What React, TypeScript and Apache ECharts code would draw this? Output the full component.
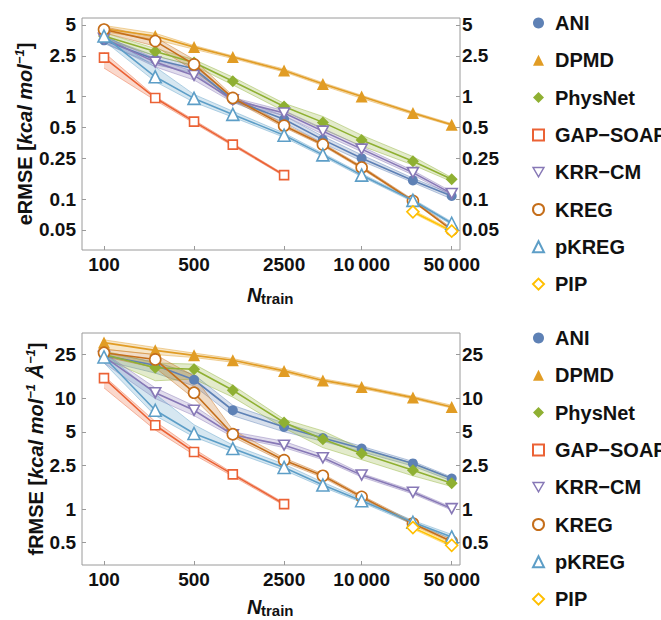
import React, { useEffect, useRef } from "react";
import * as echarts from "echarts";

// ---------- data ----------
const N = [100, 250, 500, 1000, 2500, 5000, 10000, 25000, 50000];
const names = ["ANI", "DPMD", "PhysNet", "GAP\u2212SOAP", "KRR\u2212CM", "KREG", "pKREG", "PIP"];
const colors = ["#5e81b5", "#e19c24", "#8fb032", "#eb6235", "#8778b6", "#c56e1a", "#5d9ec7", "#ffbf00"];

const xTickValues = [100, 500, 2500, 10000, 50000];
const xTickLabels = ["100", "500", "2500", "10\u2009000", "50\u2009000"];
const eTickValues = [0.05, 0.1, 0.25, 0.5, 1, 2.5, 5];
const eTickLabels = ["0.05", "0.1", "0.25", "0.5", "1", "2.5", "5"];
const fTickValues = [0.5, 1, 2.5, 5, 10, 25];
const fTickLabels = ["0.5", "1", "2.5", "5", "10", "25"];

const X = null;
// eRMSE (kcal/mol)
const eANI = [3.54, 2.3, 1.87, 0.93, 0.6, 0.38, 0.25, 0.152, 0.107];
const eDPMD = [4.6, 3.9, 3.04, 2.43, 1.8, 1.33, 1.0, 0.69, 0.53];
const ePhysNet = [3.9, 2.76, 2.15, 1.41, 0.8, 0.56, 0.376, 0.234, 0.156];
const eGAP = [2.4, 0.97, 0.57, 0.34, 0.171, X, X, X, X];
const eKRR = [3.7, 2.17, 1.61, 0.93, 0.69, 0.46, 0.307, 0.181, 0.113];
const eKREG = [4.51, 3.48, 2.06, 0.97, 0.52, 0.34, 0.203, 0.096, 0.05];
const epKREG = [3.9, 1.56, 0.96, 0.67, 0.42, 0.27, 0.171, 0.097, 0.058];
const ePIP = [X, X, X, X, X, X, X, 0.075, 0.0486];

const eANIlo = [3.3, 2.05, 1.7, 0.88, 0.56, 0.35, 0.235, 0.145, 0.1];
const eANIhi = [3.8, 2.5, 2.0, 0.98, 0.65, 0.41, 0.27, 0.16, 0.112];
const eDPMDlo = [4.3, 3.6, 2.9, 2.35, 1.74, 1.28, 0.96, 0.67, 0.52];
const eDPMDhi = [4.95, 4.15, 3.15, 2.5, 1.86, 1.37, 1.03, 0.71, 0.545];
const ePhysNetlo = [3.6, 2.5, 2.0, 1.3, 0.72, 0.48, 0.33, 0.215, 0.148];
const ePhysNethi = [4.2, 2.95, 2.3, 1.55, 0.86, 0.64, 0.42, 0.26, 0.162];
const eGAPlo = [1.9, 0.92, 0.55, 0.33, 0.167, X, X, X, X];
const eGAPhi = [2.7, 1.0, 0.59, 0.35, 0.175, X, X, X, X];
const eKRRlo = [3.4, 1.95, 1.45, 0.88, 0.65, 0.43, 0.29, 0.172, 0.108];
const eKRRhi = [3.9, 2.35, 1.75, 0.98, 0.73, 0.49, 0.325, 0.19, 0.118];
const eKREGlo = [4.2, 3.1, 1.8, 0.92, 0.5, 0.33, 0.197, 0.094, 0.049];
const eKREGhi = [4.8, 3.8, 2.3, 1.02, 0.54, 0.35, 0.21, 0.099, 0.052];
const epKREGlo = [3.5, 1.4, 0.88, 0.63, 0.4, 0.26, 0.165, 0.094, 0.056];
const epKREGhi = [4.1, 1.95, 1.05, 0.72, 0.44, 0.28, 0.177, 0.1, 0.06];
const ePIPlo = [X, X, X, X, X, X, X, 0.073, 0.047];
const ePIPhi = [X, X, X, X, X, X, X, 0.078, 0.05];

// fRMSE (kcal/mol/A)
const fANI = [24.5, 20.0, 14.8, 7.84, 5.54, 4.4, 3.53, 2.59, 1.89];
const fDPMD = [32.1, 27.3, 24.6, 22.2, 17.8, 14.6, 12.7, 10.2, 8.4];
const fPhysNet = [25.0, 19.0, 18.4, 11.9, 6.07, 4.29, 3.18, 2.25, 1.71];
const fGAP = [15.3, 5.74, 3.29, 2.06, 1.11, X, X, X, X];
const fKRR = [24.0, 11.3, 7.84, 4.7, 3.79, 2.91, 2.03, 1.42, 1.01];
const fKREG = [26.0, 22.6, 11.3, 4.76, 2.77, 2.0, 1.29, 0.74, 0.51];
const fpKREG = [23.8, 7.84, 4.83, 3.53, 2.38, 1.65, 1.19, 0.76, 0.56];
const fPIP = [X, X, X, X, X, X, X, 0.68, 0.47];

const fANIlo = [22, 17, 13, 7.0, 5.0, 4.1, 3.3, 2.45, 1.8];
const fANIhi = [26, 21.5, 16.5, 8.7, 6.0, 4.7, 3.7, 2.7, 1.95];
const fDPMDlo = [28, 25, 23.5, 21.3, 17.2, 14.1, 12.3, 9.9, 8.2];
const fDPMDhi = [34, 29, 25.8, 23, 18.5, 15.1, 13.1, 10.5, 8.7];
const fPhysNetlo = [23, 14.5, 15, 10.3, 5.4, 3.6, 2.8, 2.0, 1.6];
const fPhysNethi = [27, 21, 20.5, 13.2, 6.5, 5.1, 3.5, 2.6, 1.9];
const fGAPlo = [12.5, 5.2, 3.1, 1.98, 1.08, X, X, X, X];
const fGAPhi = [16, 6.2, 3.5, 2.12, 1.14, X, X, X, X];
const fKRRlo = [21, 10, 7.0, 4.5, 3.6, 2.8, 1.95, 1.37, 0.98];
const fKRRhi = [26, 12.5, 8.6, 5.0, 4.1, 3.1, 2.1, 1.47, 1.04];
const fKREGlo = [24, 19, 10, 4.5, 2.65, 1.93, 1.25, 0.72, 0.5];
const fKREGhi = [28, 25, 16, 5.2, 2.9, 2.08, 1.33, 0.77, 0.53];
const fpKREGlo = [21, 7.0, 4.5, 3.3, 2.25, 1.58, 1.15, 0.73, 0.54];
const fpKREGhi = [26, 11, 5.8, 3.8, 2.55, 1.75, 1.24, 0.79, 0.59];
const fPIPlo = [X, X, X, X, X, X, X, 0.66, 0.455];
const fPIPhi = [X, X, X, X, X, X, X, 0.71, 0.49];

const eMain = [eANI, eDPMD, ePhysNet, eGAP, eKRR, eKREG, epKREG, ePIP];
const eLo = [eANIlo, eDPMDlo, ePhysNetlo, eGAPlo, eKRRlo, eKREGlo, epKREGlo, ePIPlo];
const eHi = [eANIhi, eDPMDhi, ePhysNethi, eGAPhi, eKRRhi, eKREGhi, epKREGhi, ePIPhi];
const fMain = [fANI, fDPMD, fPhysNet, fGAP, fKRR, fKREG, fpKREG, fPIP];
const fLo = [fANIlo, fDPMDlo, fPhysNetlo, fGAPlo, fKRRlo, fKREGlo, fpKREGlo, fPIPlo];
const fHi = [fANIhi, fDPMDhi, fPhysNethi, fGAPhi, fKRRhi, fKREGhi, fpKREGhi, fPIPhi];

// ---------- styling ----------
const FONT = '"Liberation Sans", Arial, Helvetica, sans-serif';
const DOWN_TRI = "path://M0,0L10,0L5,8.66Z";
const symbols = ["circle", "triangle", "diamond", "rect", DOWN_TRI, "circle", "triangle", "diamond"];
const filled = [true, true, true, false, false, false, false, false];
const symSizes: any[] = [10, 12, 12, 9, [11, 10], 11, 12, 12];
const legendIcons = ["circle", "triangle", "diamond", "emptyRect", DOWN_TRI, "emptyCircle", "emptyTriangle", "emptyDiamond"];

function rgba(hex: string, a: number) {
  const r = parseInt(hex.slice(1, 3), 16);
  const g = parseInt(hex.slice(3, 5), 16);
  const b = parseInt(hex.slice(5, 7), 16);
  return `rgba(${r},${g},${b},${a})`;
}

function fmt(vals: number[], labels: string[]) {
  return (v: number) => {
    const i = vals.findIndex((t) => Math.abs(t - v) / t < 1e-6);
    return i >= 0 ? labels[i] : "";
  };
}

const GRID_LEFT = 82;
const GRID_W = 378;
const GRID_H = 232;
const TOPS = [18, 333];

function buildOption() {
  const grids = TOPS.map((t) => ({
    left: GRID_LEFT,
    top: t,
    width: GRID_W,
    height: GRID_H,
    show: true,
    borderColor: "#9a9a9a",
    borderWidth: 1,
    backgroundColor: "transparent",
  }));

  const xAxes = [0, 1].map((g) => ({
    type: "log",
    logBase: 10,
    gridIndex: g,
    min: 67.5,
    max: 58000,
    axisLine: { show: false },
    splitLine: { show: false },
    axisTick: { show: true, inside: true, length: 4, lineStyle: { color: "#9a9a9a" }, customValues: xTickValues },
    axisLabel: {
      customValues: xTickValues,
      formatter: fmt(xTickValues, xTickLabels),
      fontFamily: FONT,
      fontWeight: "bold",
      fontSize: 19,
      color: "#111",
      margin: 5,
    },
  }));

  const yRanges = [
    { min: 0.0318, max: 5.85, vals: eTickValues, labels: eTickLabels },
    { min: 0.312, max: 39.2, vals: fTickValues, labels: fTickLabels },
  ];
  const yAxes: any[] = [];
  yRanges.forEach((r, g) => {
    ["left", "right"].forEach((pos) => {
      yAxes.push({
        type: "log",
        logBase: 10,
        gridIndex: g,
        position: pos,
        min: r.min,
        max: r.max,
        axisLine: { show: false },
        splitLine: { show: false },
        axisTick: { show: true, inside: true, length: 4, lineStyle: { color: "#9a9a9a" }, customValues: r.vals },
        axisLabel: {
          customValues: r.vals,
          formatter: fmt(r.vals, r.labels),
          fontFamily: FONT,
          fontWeight: "bold",
          fontSize: 19,
          color: "#111",
          margin: pos === "left" ? 6 : 2,
        },
      });
    });
  });

  const series: any[] = [];
  const panels = [
    { main: eMain, lo: eLo, hi: eHi },
    { main: fMain, lo: fLo, hi: fHi },
  ];
  panels.forEach((p, g) => {
    // bands
    p.main.forEach((_, k) => {
      const lo = p.lo[k];
      const hi = p.hi[k];
      const segs: number[][] = [];
      for (let i = 0; i < N.length - 1; i++) {
        if (lo[i] != null && lo[i + 1] != null) {
          segs.push([N[i], lo[i] as number, hi[i] as number, N[i + 1], lo[i + 1] as number, hi[i + 1] as number]);
        }
      }
      const c = colors[k];
      series.push({
        type: "custom",
        name: names[k] + " band " + g,
        xAxisIndex: g,
        yAxisIndex: g * 2,
        z: 1,
        silent: true,
        encode: { x: [0, 3], y: [1, 2, 4, 5] },
        data: segs,
        renderItem: (params: any, api: any) => {
          const a0 = api.coord([api.value(0), api.value(1)]);
          const b0 = api.coord([api.value(0), api.value(2)]);
          const a1 = api.coord([api.value(3), api.value(4)]);
          const b1 = api.coord([api.value(3), api.value(5)]);
          const edge = { stroke: rgba(c, 0.55), lineWidth: 0.8, fill: null };
          return {
            type: "group",
            children: [
              { type: "polygon", shape: { points: [a0, a1, b1, b0] }, style: { fill: rgba(c, 0.25) } },
              { type: "line", shape: { x1: a0[0], y1: a0[1], x2: a1[0], y2: a1[1] }, style: edge },
              { type: "line", shape: { x1: b0[0], y1: b0[1], x2: b1[0], y2: b1[1] }, style: edge },
            ],
          };
        },
      });
    });
    // main lines
    p.main.forEach((vals, k) => {
      const data: number[][] = [];
      vals.forEach((v, i) => {
        if (v != null) data.push([N[i], v]);
      });
      const c = colors[k];
      series.push({
        type: "line",
        name: names[k],
        xAxisIndex: g,
        yAxisIndex: g * 2,
        z: 3 + k,
        data,
        symbol: symbols[k],
        symbolSize: symSizes[k],
        showAllSymbol: true,
        lineStyle: { color: c, width: 1.6 },
        itemStyle: filled[k]
          ? { color: c, borderWidth: 0 }
          : { color: "#ffffff", borderColor: c, borderWidth: 1.6 },
        emphasis: { disabled: true },
      });
    });
  });

  const legendData = names.map((n, k) => ({
    name: n,
    icon: legendIcons[k],
    itemStyle: filled[k] || k === 4
      ? k === 4
        ? { color: "#ffffff", borderColor: colors[k], borderWidth: 1.4 }
        : { color: colors[k], borderWidth: 0 }
      : { color: colors[k], borderColor: colors[k] },
  }));

  const legends = [8, 323].map((t) => ({
    orient: "vertical",
    left: 527,
    top: t,
    itemWidth: 11,
    itemHeight: 11,
    itemGap: 17.3,
    selectedMode: false,
    data: legendData,
    textStyle: { fontFamily: FONT, fontWeight: "bold", fontSize: 20, color: "#111", padding: [0, 0, 6, 6] },
  }));

  const yTitle = (x: number, y: number, lbl: string) => ({
    type: "text",
    x,
    y,
    rotation: Math.PI / 2,
    style: {
      text: lbl,
      fontFamily: FONT,
      fontSize: 20,
      fontWeight: "bold",
      fill: "#111",
      align: "center",
      verticalAlign: "middle",
      rich: {
        a: { fontFamily: FONT, fontSize: 20, fontWeight: "bold", fill: "#111" },
        b: { fontFamily: FONT, fontSize: 20, fontWeight: "bold", fontStyle: "italic", fill: "#111" },
        s: { fontFamily: FONT, fontSize: 13, fontWeight: "bold", fontStyle: "italic", fill: "#111", padding: [0, 0, 11, 0] },
      },
    },
  });

  const nTitle = (baseY: number) => [
    {
      type: "text",
      x: 247,
      y: baseY - 7,
      style: { text: "N", fontFamily: FONT, fontSize: 20, fontWeight: "bold", fontStyle: "italic", fill: "#111", align: "left", verticalAlign: "middle" },
    },
    {
      type: "text",
      x: 261,
      y: baseY - 4,
      style: { text: "train", fontFamily: FONT, fontSize: 15, fontWeight: "bold", fill: "#111", align: "left", verticalAlign: "middle" },
    },
  ];

  const graphic = [
    yTitle(25, 134, "{a|eRMSE [}{b|kcal mol}{s|\u22121}{a|]}"),
    yTitle(36, 449, "{a|fRMSE [}{b|kcal mol}{s|\u22121}{b| \u00C5}{s|\u22121}{a|]}"),
    ...nTitle(302),
    ...nTitle(614),
  ];

  return {
    animation: false,
    backgroundColor: "#ffffff",
    grid: grids,
    xAxis: xAxes,
    yAxis: yAxes,
    legend: legends,
    series,
    graphic,
  };
}

export default function App() {
  const ref = useRef<HTMLDivElement>(null);
  useEffect(() => {
    if (!ref.current) return;
    const chart = echarts.init(ref.current, undefined, { renderer: "svg" });
    chart.setOption(buildOption() as any);
    return () => chart.dispose();
  }, []);
  return <div ref={ref} style={{ position: "absolute", left: 0, top: 0, width: 661, height: 620 }} />;
}
